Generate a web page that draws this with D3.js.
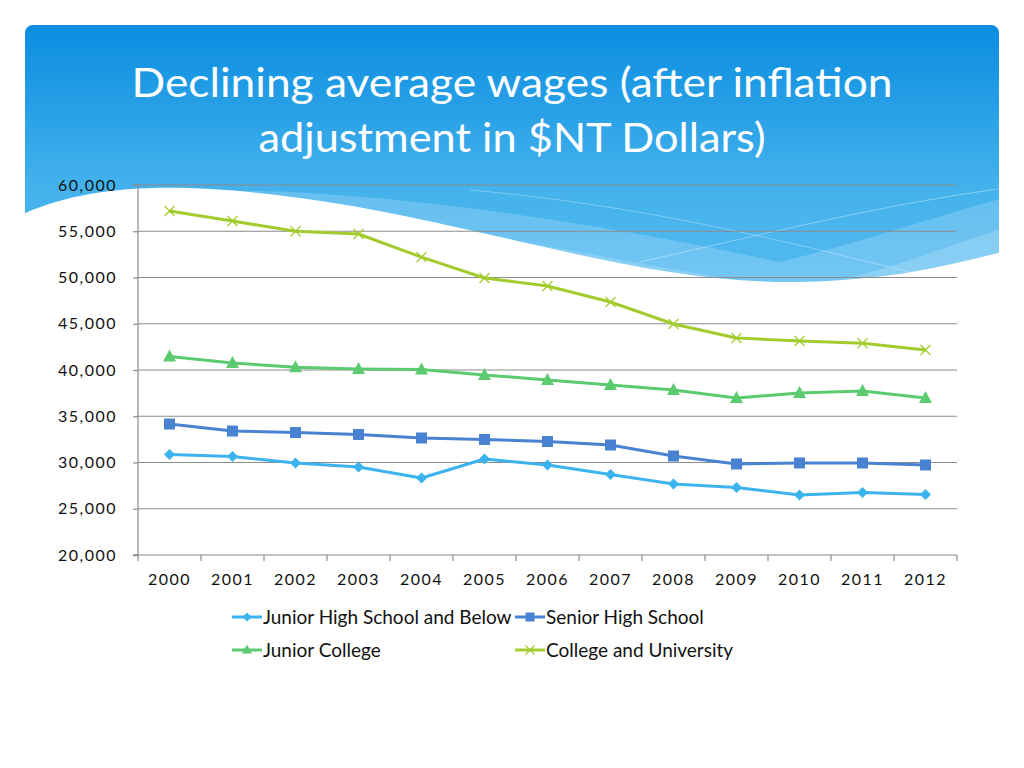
<!DOCTYPE html>
<html><head><meta charset="utf-8">
<script src="https://cdn.jsdelivr.net/npm/d3@7"></script>
<style>body{margin:0;background:#fff}svg{display:block}</style>
</head><body><svg id="c" width="1024" height="768"></svg>
<script>
const years = ["2000","2001","2002","2003","2004","2005","2006","2007","2008","2009","2010","2011","2012"];
const juniorHigh = [30860,30650,29950,29510,28320,30380,29730,28700,27680,27300,26490,26760,26540];
const seniorHigh = [34160,33400,33240,33030,32650,32490,32270,31890,30700,29840,29950,29950,29730];
const juniorCollege = [41450,40750,40300,40100,40050,39460,38920,38380,37840,36970,37510,37730,36970];
const collegeUniv = [57190,56100,55000,54700,52200,49950,49080,47350,44970,43460,43130,42900,42160];
const seriesNames = ["Junior High School and Below","Senior High School","Junior College","College and University"];
const yTicks = [20000,25000,30000,35000,40000,45000,50000,55000,60000];
const titleLines = ["Declining average wages (after inflation","adjustment in $NT Dollars)"];

(function(){
const series = [
  {name:seriesNames[0], values:juniorHigh, color:"#3bb3ee", marker:"diamond"},
  {name:seriesNames[1], values:seniorHigh, color:"#4a82d2", marker:"square"},
  {name:seriesNames[2], values:juniorCollege, color:"#5ccb6f", marker:"triangle"},
  {name:seriesNames[3], values:collegeUniv, color:"#a2cc2e", marker:"x"}
];

const svg = d3.select("#c");
const defs = svg.append("defs");
const g1 = defs.append("linearGradient").attr("id","hdr").attr("gradientUnits","userSpaceOnUse")
  .attr("x1",0).attr("y1",25).attr("x2",0).attr("y2",290);
g1.append("stop").attr("offset","0%").attr("stop-color","#0a8de0");
g1.append("stop").attr("offset","60%").attr("stop-color","#43b1ec");
g1.append("stop").attr("offset","100%").attr("stop-color","#55bbf0");
defs.append("clipPath").attr("id","hclip").append("rect")
  .attr("x",25).attr("y",25).attr("width",974).attr("height",700).attr("rx",8);

const hdr = svg.append("g").attr("clip-path","url(#hclip)");
hdr.append("rect").attr("x",20).attr("y",25).attr("width",990).attr("height",275).attr("fill","url(#hdr)");
hdr.append("path").attr("d","M140,192 C330,182 560,215 780,262 C870,240 940,215 1004,198 L1004,300 L140,300 Z")
  .attr("fill","#ffffff").attr("opacity",0.18);
hdr.append("path").attr("d","M400,222 C560,245 680,275 800,288 C880,275 950,245 1004,228 L1004,300 L400,300 Z")
  .attr("fill","#ffffff").attr("opacity",0.18);
hdr.append("path").attr("d","M640,262 C760,235 880,205 1004,188").attr("fill","none").attr("stroke","#fff").attr("stroke-opacity",0.35).attr("stroke-width",1);
hdr.append("path").attr("d","M470,190 C640,205 780,240 910,272").attr("fill","none").attr("stroke","#fff").attr("stroke-opacity",0.3).attr("stroke-width",1);
hdr.append("path").attr("d","M15,218 C80,185 170,180 300,198 C480,222 640,285 800,282 C900,280 960,262 1010,250 L1010,320 L15,320 Z")
  .attr("fill","#ffffff");

svg.append("g").selectAll("text").data(titleLines).join("text")
  .attr("x",512).attr("y",(d,i)=>97+i*55).attr("text-anchor","middle")
  .attr("font-family","Lato, 'Open Sans', sans-serif").attr("font-size",41).attr("fill","#fff")
  .attr("textLength",(d,i)=>i===0?761:507).attr("lengthAdjust","spacingAndGlyphs")
  .text(d=>d);

const pL=138, pR=957, pT=185, pB=555;
const x = d3.scaleBand().domain(years).range([pL,pR]);
const y = d3.scaleLinear().domain([20000,60000]).range([pB,pT]);

svg.append("g").selectAll("line").data(yTicks.slice(1)).join("line")
  .attr("x1",pL).attr("x2",pR).attr("y1",d=>y(d)).attr("y2",d=>y(d))
  .attr("stroke","#8c8c8c").attr("stroke-width",1.2);

const font = "Lato, 'Open Sans', sans-serif";
const ya = svg.append("g").attr("transform",`translate(${pL},0)`)
  .call(d3.axisLeft(y).tickValues(yTicks).tickSize(5).tickPadding(16).tickFormat(d3.format(",")));
ya.select(".domain").attr("stroke","#8c8c8c").attr("stroke-width",1.2).attr("d",`M-5,${pB}H0V${pT}H-5`);
ya.selectAll(".tick line").attr("stroke","#8c8c8c").attr("stroke-width",1.2);
ya.selectAll("text").attr("font-family",font).attr("font-size",16).attr("letter-spacing","1.5px").attr("fill","#111");

const xa = svg.append("g").attr("transform",`translate(0,${pB})`)
  .call(d3.axisBottom(x).tickSize(0).tickPadding(19));
xa.select(".domain").attr("stroke","#8c8c8c").attr("stroke-width",1.2).attr("d",`M${pL-5},0H${pR}`);
xa.selectAll("text").attr("font-family",font).attr("font-size",16).attr("letter-spacing","1.5px").attr("fill","#111");
svg.append("g").selectAll("line").data(d3.range(years.length+1)).join("line")
  .attr("x1",i=>pL+i*x.bandwidth()).attr("x2",i=>pL+i*x.bandwidth())
  .attr("y1",pB).attr("y2",pB+6).attr("stroke","#8c8c8c").attr("stroke-width",1.2);

const line = d3.line().x((d,i)=>x(years[i])+x.bandwidth()/2).y(d=>y(d));

function drawMarker(sel, type, color, size){
  const s=size/2;
  if(type==="x"){
    sel.append("path").attr("d",`M${-s},${-s}L${s},${s}M${-s},${s}L${s},${-s}`)
      .attr("stroke",color).attr("stroke-width",1.3).attr("fill","none");
  } else if(type==="diamond"){
    sel.append("path").attr("d",`M0,${-s}L${s},0L0,${s}L${-s},0Z`).attr("fill",color);
  } else if(type==="square"){
    sel.append("rect").attr("x",-s).attr("y",-s).attr("width",size).attr("height",size).attr("fill",color);
  } else {
    sel.append("path").attr("d",`M0,${-s-1}L${s+0.5},${s-1}L${-s-0.5},${s-1}Z`).attr("fill",color);
  }
}

series.forEach(s=>{
  svg.append("path").attr("d",line(s.values)).attr("fill","none")
    .attr("stroke",s.color).attr("stroke-width",3).attr("stroke-linejoin","round");
  const sz = s.marker==="diamond"?11: s.marker==="square"?11: s.marker==="triangle"?12:10;
  s.values.forEach((v,i)=>{
    const gm = svg.append("g").attr("transform",`translate(${x(years[i])+x.bandwidth()/2},${y(v)})`);
    drawMarker(gm, s.marker, s.color, sz);
  });
});

const legPos = [[232,617],[515,617],[232,650],[515,650]];
series.forEach((s,i)=>{
  const [lx,ly]=legPos[i];
  const lg = svg.append("g").attr("transform",`translate(${lx},${ly})`);
  lg.append("line").attr("x1",0).attr("x2",30).attr("y1",0).attr("y2",0).attr("stroke",s.color).attr("stroke-width",3);
  const gm = lg.append("g").attr("transform","translate(15,0)");
  drawMarker(gm, s.marker, s.color, 9);
  lg.append("text").attr("x",31).attr("y",6.5).attr("font-family",font).attr("font-size",19).attr("fill","#111").text(s.name);
});
})();
</script></body></html>
